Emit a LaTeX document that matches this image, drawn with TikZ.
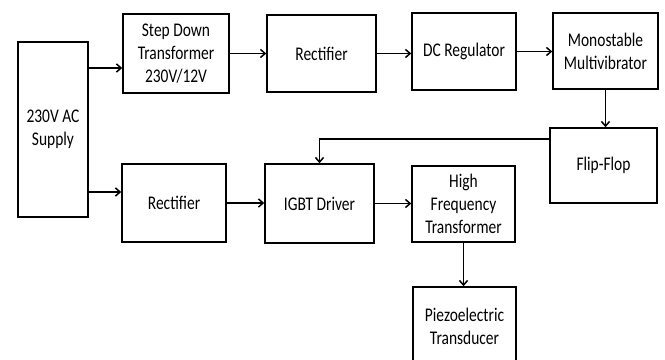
\documentclass[tikz,border=0pt]{standalone}
\usepackage{fontspec}
\setmainfont{Carlito}[FakeStretch=0.8]
\usetikzlibrary{arrows.meta}
\tikzset{
    block/.style={draw, line width=1.3pt, inner sep=2pt, align=center,
                  font=\fontsize{16.5}{19.8}\selectfont},
    flow/.style={-{Straight Barb[length=4pt,width=7pt]}, line width=1.3pt},
}

\begin{document}
\begin{tikzpicture}
    \useasboundingbox (0,0) rectangle (19.95,-10.8);
    \clip (0,0) rectangle (19.95,-10.8);

    % power path
    \node[block, minimum width=2.1cm, minimum height=5.25cm] (supply) at (1.59,-3.885) {230V AC\\Supply};
    \node[block, minimum width=3.18cm, minimum height=2.37cm] (stepdown) at (5.28,-1.605) {Step Down\\Transformer\\230V/12V};
    \node[block, minimum width=3.27cm, minimum height=2.31cm] (rectone) at (9.645,-1.605) {Rectifier};
    \node[block, minimum width=3.12cm, minimum height=2.31cm] (dcreg) at (13.92,-1.545) {DC Regulator};
    \node[block, minimum width=3.15cm, minimum height=2.28cm] (mono) at (18.165,-1.53) {Monostable\\Multivibrator};
    \node[block, minimum width=3.21cm, minimum height=2.25cm] (flipflop) at (18.105,-4.965) {Flip-Flop};

    % driver path
    \node[block, minimum width=3.12cm, minimum height=2.34cm] (recttwo) at (5.22,-6.09) {Rectifier};
    \node[block, minimum width=3.27cm, minimum height=2.37cm] (igbt) at (9.585,-6.105) {IGBT Driver};
    \node[block, minimum width=3.09cm, minimum height=2.28cm] (hftrans) at (13.905,-6.12) {High\\Frequency\\Transformer};
    \node[block, minimum width=3.09cm, minimum height=2.34cm] (piezo) at (13.935,-9.78) {Piezoelectric\\Transducer};

    \coordinate (sdin) at ([yshift=-0.435cm]stepdown.west);
    \coordinate (rtin) at ([yshift=0.33cm]recttwo.west);
    \coordinate (ffout) at ([yshift=0.8cm]flipflop.west);

    \draw[flow] (supply.east |- sdin) -- (sdin);
    \draw[flow] (stepdown.east) -- (stepdown.east -| rectone.west);
    \draw[flow] (rectone.east) -- (rectone.east -| dcreg.west);
    \draw[flow] (dcreg.east) -- (dcreg.east -| mono.west);
    \draw[flow] (mono.south) -- (mono.south |- flipflop.north);
    \draw[flow] (ffout) -| (igbt.north);

    \draw[flow] (supply.east |- rtin) -- (rtin);
    \draw[flow] (recttwo.east) -- (recttwo.east -| igbt.west);
    \draw[flow] (igbt.east) -- (igbt.east -| hftrans.west);
    \draw[flow] (hftrans.south) -- (hftrans.south |- piezo.north);
\end{tikzpicture}
\end{document}
